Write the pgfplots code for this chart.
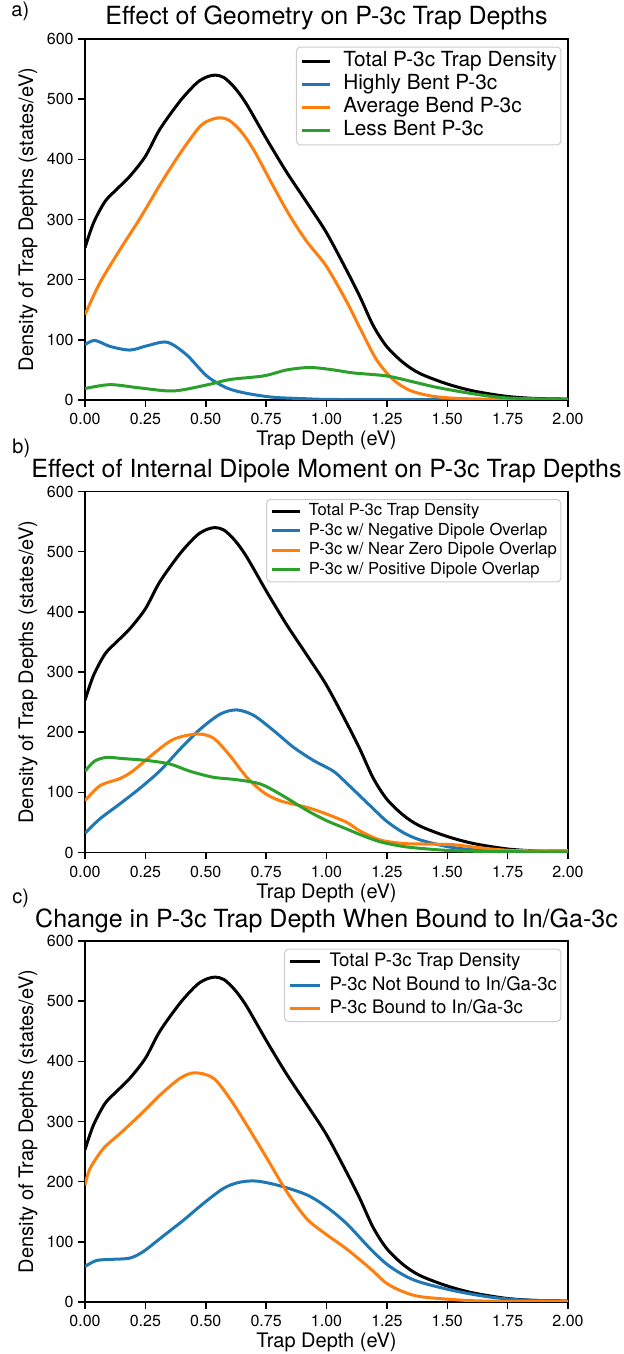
\documentclass[border=0pt]{standalone}
\usepackage{pgfplots}
\pgfplotsset{compat=1.18}
\usepackage{fontspec}
\setmainfont{TeX Gyre Heros}
\definecolor{tabblue}{HTML}{1F77B4}
\definecolor{taborange}{HTML}{FF7F0E}
\definecolor{tabgreen}{HTML}{2CA02C}

\pgfplotsset{
  panel/.style={
    scale only axis, width=241.5pt, height=180.5pt,
    anchor=south west,
    xmin=0, xmax=2, ymin=0, ymax=600,
    xtick={0,0.25,0.5,0.75,1,1.25,1.5,1.75,2},
    xticklabels={0.00,0.25,0.50,0.75,1.00,1.25,1.50,1.75,2.00},
    ytick={0,100,200,300,400,500,600},
    yticklabels={0,100,200,300,400,500,600},
    tick align=outside, major tick length=3.5pt, tick pos=left,
    every tick/.style={black, line width=0.75pt},
    axis line style={line width=0.8pt},
    tick label style={font=\fontsize{8}{9.6}\selectfont, inner sep=0pt},
    xticklabel shift=3pt, yticklabel shift=2pt,
    label style={font=\fontsize{10}{12}\selectfont},
    xlabel={Trap Depth (eV)},
    ylabel={Density of Trap Depths (states/eV)},
    xlabel style={at={(axis description cs:0.5,-0.113)}, anchor=center},
    ylabel style={at={(axis description cs:-0.118,0.5)}, anchor=center},
    title style={at={(axis description cs:0.5,1)}, anchor=base, yshift=1pt,
                 font=\fontsize{12.5}{15}\selectfont},
    legend cell align=left,
    every axis plot/.append style={line width=1.5pt, smooth},
  },
  legbase/.style={
    legend style={at={(axis description cs:1,1)}, anchor=north east,
      xshift=-3.3pt, yshift=-3.8pt, draw=black!20, line width=0.5pt,
      rounded corners=2pt, fill=white, fill opacity=0.8, text opacity=1,
      draw opacity=1},
  },
}

\pgfplotstableread{
x      y
0      253
0.035  294
0.083  330
0.131  350
0.186  372
0.25   405
0.31   450
0.394  497
0.463  527
0.505  537
0.539  540
0.575  536
0.62   519
0.67   491
0.753  433
0.836  378
0.919  328
1.0    278
1.084  215
1.138  172
1.193  124
1.249  89
1.318  62
1.387  44
1.497  27
1.608  15
1.746  6
1.87   2.5
2.0    1.5
}\totaltable

\begin{document}
\begin{tikzpicture}
\useasboundingbox (0,0) rectangle (312pt,677pt);

\node[anchor=base west, inner sep=0pt, font=\fontsize{10}{12}\selectfont] at (5.5pt,668.5pt) {a)};
\node[anchor=base west, inner sep=0pt, font=\fontsize{10}{12}\selectfont] at (6pt,450pt) {b)};
\node[anchor=base west, inner sep=0pt, font=\fontsize{10}{12}\selectfont] at (6pt,225pt) {c)};

% ---------------- Panel a ----------------
\begin{axis}[panel, legbase, at={(42.5pt,477pt)},
  title={Effect of Geometry on P-3c Trap Depths},
  legend image code/.code={\draw[#1, line width=1.5pt] (0pt,0pt) -- (14pt,0pt);},
  legend style={font=\fontsize{10.4}{12}\selectfont, inner xsep=2pt, inner ysep=2.3pt,
    row sep=1.7pt, nodes={inner xsep=0pt, inner ysep=0pt, text height=7.6pt, text depth=2.2pt},
    /tikz/every odd column/.append style={column sep=6pt}},
]
\addplot[black] table[x=x,y=y] {\totaltable};
\addlegendentry{Total P-3c Trap Density}
\addplot[tabblue] coordinates {
(0,92) (0.041,99) (0.104,89) (0.186,83) (0.256,90) (0.34,96) (0.421,75) (0.504,40)
(0.587,20) (0.67,11) (0.78,4.5) (0.919,2) (1.0,1) (1.25,0.5) (2.0,0.3)};
\addlegendentry{Highly Bent P-3c}
\addplot[taborange] coordinates {
(0,142) (0.062,195) (0.145,250) (0.228,302) (0.311,358) (0.394,410) (0.477,455)
(0.53,467) (0.566,469) (0.6,464) (0.645,447) (0.698,416) (0.78,355) (0.85,305) (0.919,263) (1.0,222)
(1.084,163) (1.138,120) (1.207,67) (1.276,34) (1.345,16) (1.428,7) (1.525,3)
(1.663,1.5) (2.0,0.5)};
\addlegendentry{Average Bend P-3c}
\addplot[tabgreen] coordinates {
(0,19) (0.104,25.5) (0.228,20) (0.366,15) (0.504,25) (0.6,34) (0.739,40) (0.836,50)
(0.932,54) (1.029,50) (1.11,45) (1.249,40) (1.36,30) (1.456,21) (1.566,13)
(1.663,7) (1.746,3.5) (1.87,2) (2.0,1.5)};
\addlegendentry{Less Bent P-3c}
\end{axis}

% ---------------- Panel b ----------------
\begin{axis}[panel, legbase, at={(42.5pt,250.75pt)},
  title={Effect of Internal Dipole Moment on P-3c Trap Depths},
  legend image code/.code={\draw[#1, line width=1.5pt] (0pt,0pt) -- (14pt,0pt);},
  legend style={font=\fontsize{8.3}{10}\selectfont, inner xsep=2pt, inner ysep=2pt,
    row sep=1.85pt, nodes={inner xsep=0pt, inner ysep=0pt, text height=6.1pt, text depth=1.8pt},
    /tikz/every odd column/.append style={column sep=3.7pt}},
]
\addplot[black] table[x=x,y=y] {\totaltable};
\addlegendentry{Total P-3c Trap Density}
\addplot[tabblue] coordinates {
(0,32) (0.062,56) (0.145,81) (0.228,107) (0.311,136) (0.394,172) (0.477,205)
(0.56,230) (0.628,237) (0.698,228) (0.78,203) (0.863,175) (0.946,153) (1.029,135)
(1.084,115) (1.18,78) (1.249,52) (1.318,33) (1.387,21) (1.497,10) (1.594,5)
(1.746,1.5) (2.0,0.5)};
\addlegendentry{P-3c w/ Negative Dipole Overlap}
\addplot[taborange] coordinates {
(0,86) (0.062,111) (0.145,123) (0.2,136) (0.283,164) (0.366,188) (0.463,197)
(0.532,190) (0.6,161) (0.67,125) (0.739,100) (0.808,86) (0.919,75) (1.0,64)
(1.084,50) (1.138,36) (1.22,21) (1.318,15) (1.414,14) (1.525,13) (1.608,9)
(1.705,5) (1.8,3) (2.0,3)};
\addlegendentry{P-3c w/ Near Zero Dipole Overlap}
\addplot[tabgreen] coordinates {
(0,135) (0.04,152) (0.09,158) (0.159,156) (0.256,153) (0.352,147) (0.435,135)
(0.532,125) (0.628,121) (0.725,114) (0.808,97) (0.919,70) (1.0,53) (1.084,39)
(1.138,30) (1.22,18) (1.318,10) (1.414,6) (1.525,3) (1.7,1.5) (2.0,1)};
\addlegendentry{P-3c w/ Positive Dipole Overlap}
\end{axis}

% ---------------- Panel c ----------------
\begin{axis}[panel, legbase, at={(42.5pt,26pt)},
  title={Change in P-3c Trap Depth When Bound to In/Ga-3c},
  legend image code/.code={\draw[#1, line width=1.5pt] (0pt,0pt) -- (15pt,0pt);},
  legend style={font=\fontsize{9.3}{11}\selectfont, inner xsep=2pt, inner ysep=2pt,
    row sep=2.9pt, nodes={inner xsep=0pt, inner ysep=0pt, text height=6.8pt, text depth=2pt},
    /tikz/every odd column/.append style={column sep=4pt}},
]
\addplot[black] table[x=x,y=y] {\totaltable};
\addlegendentry{Total P-3c Trap Density}
\addplot[tabblue] coordinates {
(0,59) (0.048,69) (0.117,71) (0.186,73) (0.242,84) (0.325,110) (0.408,136)
(0.491,164) (0.574,189) (0.64,199) (0.711,201) (0.808,193) (0.919,178) (1.0,158)
(1.084,130) (1.18,89) (1.249,63) (1.318,45) (1.387,33) (1.525,19) (1.663,9)
(1.8,3.5) (2.0,1.5)};
\addlegendentry{P-3c Not Bound to In/Ga-3c}
\addplot[taborange] coordinates {
(0,194) (0.021,222) (0.076,255) (0.145,280) (0.228,311) (0.311,344) (0.394,372)
(0.456,381) (0.532,372) (0.6,338) (0.67,294) (0.753,239) (0.836,183) (0.919,138)
(1.0,112) (1.084,88) (1.18,56) (1.249,31) (1.318,17) (1.387,9) (1.525,4)
(1.663,1.5) (2.0,0.5)};
\addlegendentry{P-3c Bound to In/Ga-3c}
\end{axis}
\end{tikzpicture}
\end{document}
